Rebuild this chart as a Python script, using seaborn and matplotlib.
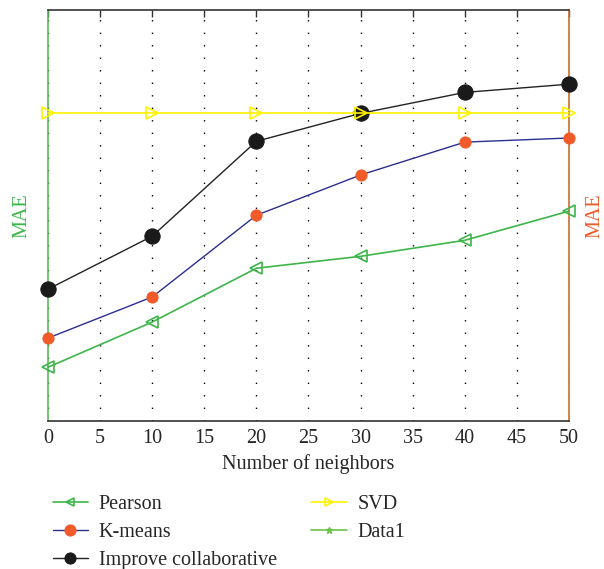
import matplotlib
import matplotlib.pyplot as plt
import pandas as pd
import seaborn as sns

matplotlib.use("Agg")

# ---------------------------------------------------------------------------
# Data (y in relative MAE units, no ticks shown)
# ---------------------------------------------------------------------------
neighbors = [0, 10, 20, 30, 40, 50]
pearson   = [0.131, 0.241, 0.372, 0.401, 0.440, 0.511]
kmeans    = [0.202, 0.302, 0.501, 0.599, 0.679, 0.689]
improve   = [0.321, 0.450, 0.681, 0.749, 0.800, 0.820]
svd       = [0.749, 0.749, 0.749, 0.749, 0.749, 0.749]
data1     = []   # only appears in the legend

x_ticks = list(range(0, 55, 5))

GREEN  = "#3db54a"
ORANGE = "#f15a29"
NAVY   = "#2b2f8f"
YELLOW = "#fff200"

sns.set_theme(style="white")
plt.rcParams["font.family"] = ["Liberation Serif", "DejaVu Serif"]

fig = plt.figure(figsize=(6.04, 5.69), dpi=100)
ax = fig.add_axes([0.0795, 0.260, 0.8625, 0.722])

df = pd.DataFrame({"x": neighbors, "pearson": pearson, "kmeans": kmeans,
                   "improve": improve, "svd": svd})

common = dict(ax=ax, clip_on=False, zorder=3)
sns.lineplot(data=df, x="x", y="pearson", color=GREEN, lw=1.2,
             marker="<", markersize=8, markerfacecolor="none",
             markeredgecolor=GREEN, markeredgewidth=1.2, label="Pearson", **common)
sns.lineplot(data=df, x="x", y="kmeans", color=NAVY, lw=1.0,
             marker="o", markersize=8, markerfacecolor=ORANGE,
             markeredgecolor=ORANGE, label="K-means", **common)
sns.lineplot(data=df, x="x", y="improve", color="#222222", lw=1.0,
             marker="o", markersize=11, markerfacecolor="#1a1a1a",
             markeredgecolor="#1a1a1a", label="Improve collaborative", **common)
sns.lineplot(data=df, x="x", y="svd", color=YELLOW, lw=1.2,
             marker=">", markersize=8, markerfacecolor="none",
             markeredgecolor=YELLOW, markeredgewidth=1.2, label="SVD", **common)
ax.plot(data1, data1, color="#6cc24a", lw=1.2, marker="*", markersize=5,
        label="Data1")

ax.set_xlim(0, 50)
ax.set_ylim(0, 1)
ax.set_xticks(x_ticks)
ax.set_xticklabels([str(t) for t in x_ticks], fontsize=14.5)
ax.set_yticks([])
ax.xaxis.grid(True, color="black", linestyle=(0, (1, 8)), lw=1.0)
ax.tick_params(axis="x", direction="in", top=True, length=5, width=1,
               color="#333333", pad=6)

ax.set_xlabel("Number of neighbors", fontsize=14.5, labelpad=4)
ax.set_ylabel("MAE", fontsize=14.5, color=GREEN, labelpad=12)

for side in ("top", "bottom"):
    ax.spines[side].set_color("#333333")
    ax.spines[side].set_linewidth(1.2)
ax.spines["left"].set_color("#5cb85c")
ax.spines["left"].set_linewidth(1.2)
ax.spines["right"].set_color("#c8702a")
ax.spines["right"].set_linewidth(1.2)

ax2 = ax.twinx()
ax2.set_yticks([])
ax2.set_ylabel("MAE", fontsize=14.5, color=ORANGE, labelpad=12)
for sp in ax2.spines.values():
    sp.set_visible(False)

leg = ax.legend(loc="upper left", bbox_to_anchor=(-0.026, -0.135), ncol=2,
                frameon=False, fontsize=14.5, handlelength=1.75,
                handletextpad=0.55, columnspacing=1.7, labelspacing=0.45)
# legend markers are all drawn at a similar, smaller size in the reference
for h, ms in zip(leg.get_lines(), [6, 8, 8, 6, 5]):
    h.set_markersize(ms)

fig.savefig("out.png", dpi=100)
